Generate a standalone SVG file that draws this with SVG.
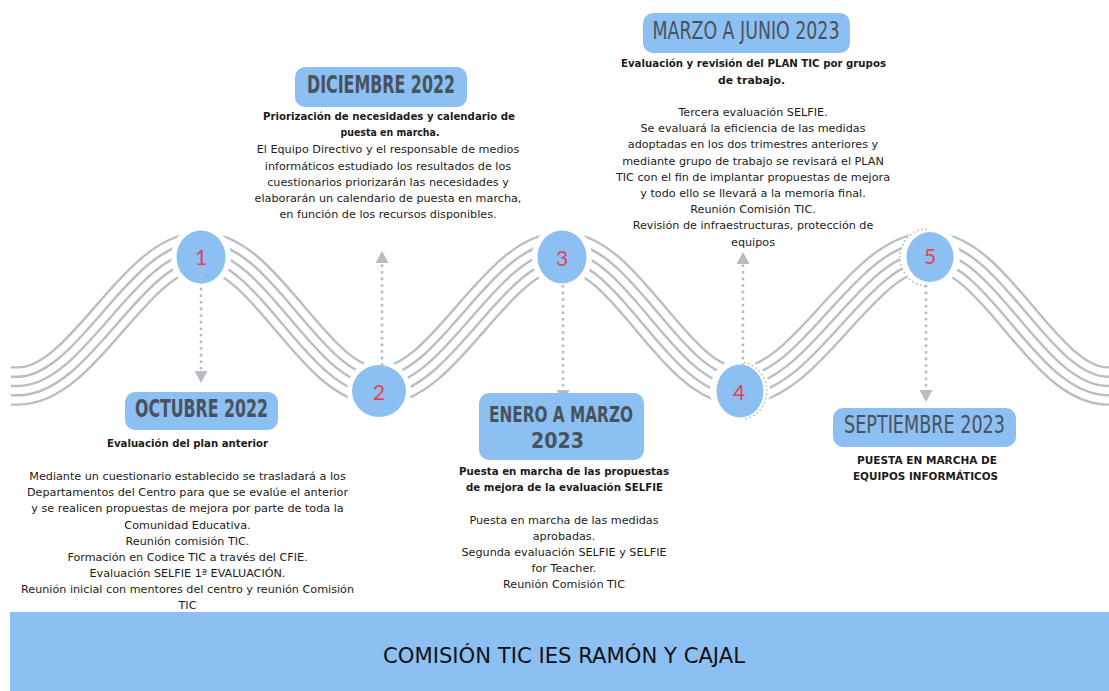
<svg xmlns="http://www.w3.org/2000/svg" xmlns:xlink="http://www.w3.org/1999/xlink" width="1109" height="691" viewBox="0 0 1109 691">
<style>
.wg{fill:none;stroke:#b8bec4}
.ww{fill:none;stroke:#ffffff}
.halo{fill:#ffffff}
.dot{fill:#8cbff2}
.ring{fill:none;stroke:#b6bcc2;stroke-width:1.6;stroke-dasharray:1.6 2.6}
.num{font-family:Lato,"Open Sans","DejaVu Sans",sans-serif;font-weight:normal;font-size:21px;fill:#e8404d;text-anchor:middle}
.conn{fill:none;stroke:#b6bcc2;stroke-width:2.6;stroke-dasharray:2.6 4}
.box{fill:#8cbff2}
.ttl{font-family:"Liberation Sans Narrow","DejaVu Sans Condensed","DejaVu Sans",sans-serif;font-weight:bold;font-size:24.5px;fill:#48525b;text-anchor:middle}
.ttl.lt{font-weight:normal}
.ttl.sm{font-size:21.8px}
.b{font-family:"DejaVu Sans",sans-serif;font-size:11.2px;fill:#1b1b1b;text-anchor:middle}
.hb{font-family:"DejaVu Sans",sans-serif;font-weight:bold;font-size:11.2px;fill:#1b1b1b;text-anchor:middle}
.band{fill:#8cbff2}
.bandt{font-family:"DejaVu Sans",sans-serif;font-size:21px;fill:#121212;text-anchor:middle}
</style>
<defs>
<path id="w" d="M11,386 L18,386 C84.4,386 134.6,251 201,251 C265.6,251 314.4,386 379,386 C445.4,386 495.6,251 562,251 C626.3,251 674.7,386 739,386 C808.3,386 860.7,251 930,251 C994.6,251 1043.4,386 1108,386 L1109,386"/>
<marker id="ah" viewBox="0 0 12 13" markerWidth="12" markerHeight="13" refX="1" refY="6.5" orient="auto" markerUnits="userSpaceOnUse">
<path d="M0,0 L12,6.5 L0,13 Z" fill="#b6bcc2"/>
</marker>
</defs>
<rect width="1109" height="691" fill="#ffffff"/>
<g id="waves">
<use xlink:href="#w" class="wg" stroke-width="39.6"/>
<use xlink:href="#w" class="ww" stroke-width="34.8"/>
<use xlink:href="#w" class="wg" stroke-width="21"/>
<use xlink:href="#w" class="ww" stroke-width="16.2"/>
<use xlink:href="#w" class="wg" stroke-width="2.4"/>
</g>
<g id="milestone1">
<ellipse class="halo" cx="201" cy="257" rx="30" ry="32"/>
<ellipse class="dot" cx="201" cy="257" rx="24.5" ry="26.5"/>
<text class="num" x="201" y="264.5">1</text>
</g>
<g id="milestone2">
<ellipse class="halo" cx="379" cy="391" rx="32" ry="31"/>
<ellipse class="dot" cx="379" cy="391" rx="27" ry="26"/>
<text class="num" x="379" y="400">2</text>
</g>
<g id="milestone3">
<ellipse class="halo" cx="562" cy="257" rx="30" ry="32"/>
<ellipse class="dot" cx="562" cy="257" rx="24.5" ry="26.5"/>
<text class="num" x="562" y="266">3</text>
</g>
<g id="milestone4">
<ellipse class="halo" cx="740" cy="391" rx="30" ry="32"/>
<ellipse class="dot" cx="740" cy="391" rx="23.5" ry="26.5"/>
<path class="ring" d="M744,362.5 A28,29 0 0 1 744,419.5"/>
<text class="num" x="739" y="400">4</text>
</g>
<g id="milestone5">
<ellipse class="halo" cx="930" cy="257" rx="30" ry="31"/>
<ellipse class="dot" cx="930" cy="257" rx="23.5" ry="25"/>
<path class="ring" d="M927,229 A27,28.5 0 0 0 927,286"/>
<text class="num" x="930" y="264">5</text>
</g>
<g id="connectors">
<path class="conn" d="M201,268 V372" marker-end="url(#ah)"/>
<path class="conn" d="M382,366 V262" marker-end="url(#ah)"/>
<path class="conn" d="M563,285 V391" marker-end="url(#ah)"/>
<path class="conn" d="M743,366 V263" marker-end="url(#ah)"/>
<path class="conn" d="M926,285 V391" marker-end="url(#ah)"/>
</g>
<g id="octubre">
<rect class="box" x="125" y="392" width="153" height="38" rx="10"/>
<text class="ttl" x="201.5" y="417" textLength="133" lengthAdjust="spacingAndGlyphs">OCTUBRE 2022</text>
<text class="hb" x="187.5" y="447" textLength="161" lengthAdjust="spacingAndGlyphs">Evaluación del plan anterior</text>
<text class="b" x="187.5" y="480">Mediante un cuestionario establecido se trasladará a los</text>
<text class="b" x="187.5" y="496.2">Departamentos del Centro para que se evalúe el anterior</text>
<text class="b" x="187.5" y="512.3">y se realicen propuestas de mejora por parte de toda la</text>
<text class="b" x="187.5" y="528.5">Comunidad Educativa.</text>
<text class="b" x="187.5" y="544.6">Reunión comisión TIC.</text>
<text class="b" x="187.5" y="560.8">Formación en Codice TIC a través del CFIE.</text>
<text class="b" x="187.5" y="576.9">Evaluación SELFIE 1ª EVALUACIÓN.</text>
<text class="b" x="187.5" y="593">Reunión inicial con mentores del centro y reunión Comisión</text>
<text class="b" x="187.5" y="609.2">TIC</text>
</g>
<g id="diciembre">
<rect class="box" x="295" y="67" width="172" height="40" rx="10"/>
<text class="ttl" x="381" y="93" textLength="148" lengthAdjust="spacingAndGlyphs">DICIEMBRE 2022</text>
<text class="hb" x="389" y="120" textLength="252" lengthAdjust="spacingAndGlyphs">Priorización de necesidades y calendario de</text>
<text class="hb" x="390" y="135.5" textLength="99" lengthAdjust="spacingAndGlyphs">puesta en marcha.</text>
<text class="b" x="388" y="153">El Equipo Directivo y el responsable de medios</text>
<text class="b" x="388" y="169.5">informáticos estudiado los resultados de los</text>
<text class="b" x="388" y="186">cuestionarios priorizarán las necesidades y</text>
<text class="b" x="388" y="202">elaborarán un calendario de puesta en marcha,</text>
<text class="b" x="388" y="218">en función de los recursos disponibles.</text>
</g>
<g id="marzo-junio">
<rect class="box" x="643" y="13" width="207" height="40" rx="10"/>
<text class="ttl lt" x="746" y="39" textLength="187" lengthAdjust="spacingAndGlyphs">MARZO A JUNIO 2023</text>
<text class="hb" x="753.5" y="67" textLength="265" lengthAdjust="spacingAndGlyphs">Evaluación y revisión del PLAN TIC por grupos</text>
<text class="hb" x="751.5" y="83.5" textLength="67" lengthAdjust="spacingAndGlyphs">de trabajo.</text>
<text class="b" x="753" y="116">Tercera evaluación SELFIE.</text>
<text class="b" x="753" y="132.2">Se evaluará la eficiencia de las medidas</text>
<text class="b" x="753" y="148.4">adoptadas en los dos trimestres anteriores y</text>
<text class="b" x="753" y="164.6">mediante grupo de trabajo se revisará el PLAN</text>
<text class="b" x="753" y="180.8">TIC con el fin de implantar propuestas de mejora</text>
<text class="b" x="753" y="197">y todo ello se llevará a la memoria final.</text>
<text class="b" x="753" y="213.2">Reunión Comisión TIC.</text>
<text class="b" x="753" y="229.4">Revisión de infraestructuras, protección de</text>
<text class="b" x="753" y="245.6">equipos</text>
</g>
<g id="enero-marzo">
<rect class="box" x="479" y="393" width="165" height="67" rx="10"/>
<text class="ttl sm" x="561" y="421.5" textLength="144" lengthAdjust="spacingAndGlyphs">ENERO A MARZO</text>
<text class="ttl sm" x="557.5" y="448" textLength="53" lengthAdjust="spacingAndGlyphs">2023</text>
<text class="hb" x="564" y="475" textLength="210" lengthAdjust="spacingAndGlyphs">Puesta en marcha de las propuestas</text>
<text class="hb" x="564.5" y="491" textLength="197" lengthAdjust="spacingAndGlyphs">de mejora de la evaluación SELFIE</text>
<text class="b" x="564" y="524">Puesta en marcha de las medidas</text>
<text class="b" x="564" y="539.5">aprobadas.</text>
<text class="b" x="564" y="556">Segunda evaluación SELFIE y SELFIE</text>
<text class="b" x="564" y="572">for Teacher.</text>
<text class="b" x="564" y="588">Reunión Comisión TIC</text>
</g>
<g id="septiembre">
<rect class="box" x="833" y="408" width="183" height="39" rx="10"/>
<text class="ttl lt" x="924.5" y="433" textLength="161" lengthAdjust="spacingAndGlyphs">SEPTIEMBRE 2023</text>
<text class="hb" x="927" y="464" textLength="140" lengthAdjust="spacingAndGlyphs">PUESTA EN MARCHA DE</text>
<text class="hb" x="925.5" y="480" textLength="145" lengthAdjust="spacingAndGlyphs">EQUIPOS INFORMÁTICOS</text>
</g>
<g id="footer">
<rect class="band" x="10" y="612" width="1099" height="79"/>
<text class="bandt" x="564" y="663" textLength="362" lengthAdjust="spacingAndGlyphs">COMISIÓN TIC IES RAMÓN Y CAJAL</text>
</g>
</svg>
